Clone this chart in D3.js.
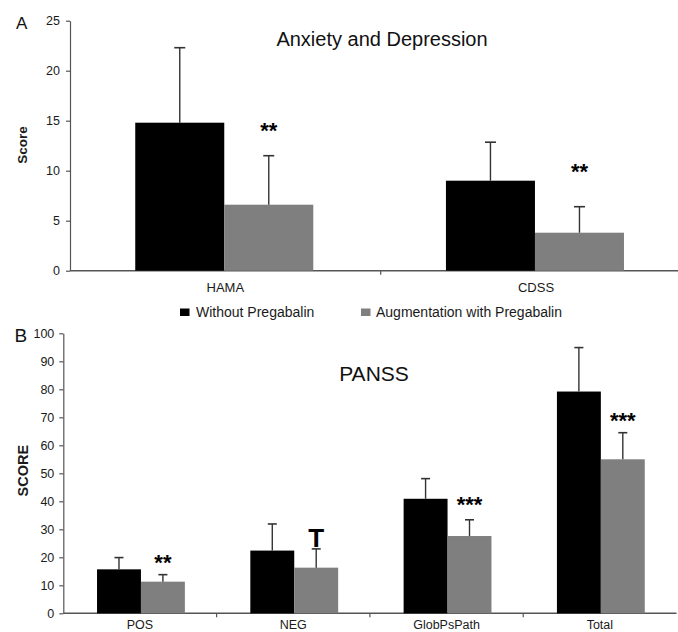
<!DOCTYPE html>
<html>
<head>
<meta charset="utf-8">
<script src="https://cdn.jsdelivr.net/npm/d3@7"></script>
<style>
  html, body { margin: 0; padding: 0; background: #fff; }
  svg { display: block; font-family: "Liberation Sans", Arial, sans-serif; }
</style>
</head>
<body>
<svg id="chart" width="678" height="632"></svg>
<script>
// Series names shown in the legend
const seriesNames = ["Without Pregabalin", "Augmentation with Pregabalin"];

// Panel A: anxiety and depression scales
const categoriesA = ["HAMA", "CDSS"];
const withoutA = [14.8, 9.0];
const withoutSdA = [7.5, 3.85];
const withA = [6.6, 3.8];
const withSdA = [4.9, 2.6];
const sigA = ["**", "**"];
const sigLevelA = [14.5, 10.4];
const ticksA = [0, 5, 10, 15, 20, 25];

// Panel B: PANSS subscales
const categoriesB = ["POS", "NEG", "GlobPsPath", "Total"];
const withoutB = [15.7, 22.4, 40.9, 79.2];
const withoutSdB = [4.2, 9.5, 7.2, 15.7];
const withB = [11.3, 16.3, 27.6, 55.0];
const withSdB = [2.5, 6.7, 5.8, 9.5];
const sigB = ["**", "T", "***", "***"];
const sigLevelB = [19.7, 27.0, 40.5, 70.5];
const ticksB = [0, 10, 20, 30, 40, 50, 60, 70, 80, 90, 100];

const colors = ["#000000", "#7f7f7f"];
const axisColor = "#555";
const textColor = "#1a1a1a";

const svg = d3.select("#chart");

function drawPanel(opts) {
  const g = svg.append("g");
  const y = d3.scaleLinear().domain(opts.yDomain).range([opts.bottom, opts.top]);
  const x = d3.scaleBand().domain(opts.categories).range([opts.left, opts.right]).padding(0);
  const bw = x.bandwidth();
  const sub = d3.scaleBand().domain(seriesNames)
    .range([bw * opts.groupStart, bw * opts.groupEnd]).padding(0);

  // y axis
  const yAxis = g.append("g")
    .attr("transform", `translate(${opts.left},0)`)
    .call(d3.axisLeft(y).tickValues(opts.ticks).tickSize(4).tickPadding(opts.tickPad).tickSizeOuter(0));
  yAxis.select(".domain").attr("stroke", axisColor).attr("stroke-width", 1.2);
  yAxis.selectAll(".tick line").attr("stroke", axisColor).attr("stroke-width", 1.2);
  yAxis.selectAll(".tick text")
    .attr("fill", textColor)
    .style("font-size", opts.tickFont + "px")
    .style("font-family", "'Liberation Sans', Arial, sans-serif");

  // x axis baseline and category boundary ticks
  g.append("line")
    .attr("x1", opts.left).attr("x2", opts.right)
    .attr("y1", y(0)).attr("y2", y(0))
    .attr("stroke", axisColor).attr("stroke-width", 1.4);
  g.selectAll(".bound").data(opts.categories.slice(1)).enter().append("line")
    .attr("x1", d => x(d)).attr("x2", d => x(d))
    .attr("y1", y(0)).attr("y2", y(0) + 4)
    .attr("stroke", axisColor).attr("stroke-width", 1.2);

  // category labels
  g.selectAll(".cat").data(opts.categories).enter().append("text")
    .attr("x", d => x(d) + bw / 2)
    .attr("y", opts.catBaseline)
    .attr("text-anchor", "middle")
    .attr("fill", textColor)
    .style("font-size", opts.catFont + "px")
    .text(d => d);

  const rows = opts.categories.map((c, i) => ({
    cat: c,
    vals: [
      { s: seriesNames[0], v: opts.without[i], sd: opts.withoutSd[i], c: colors[0] },
      { s: seriesNames[1], v: opts.with[i], sd: opts.withSd[i], c: colors[1] }
    ],
    sig: opts.sig[i],
    sigLevel: opts.sigLevel[i]
  }));

  const groups = g.selectAll(".grp").data(rows).enter().append("g")
    .attr("transform", d => `translate(${x(d.cat)},0)`);

  // bars
  groups.selectAll("rect").data(d => d.vals).enter().append("rect")
    .attr("x", d => sub(d.s))
    .attr("width", sub.bandwidth())
    .attr("y", d => y(d.v))
    .attr("height", d => y(0) - y(d.v))
    .attr("fill", d => d.c);

  // upper error bars
  const eb = groups.selectAll(".err").data(d => d.vals).enter().append("g");
  eb.append("line")
    .attr("x1", d => sub(d.s) + sub.bandwidth() / 2)
    .attr("x2", d => sub(d.s) + sub.bandwidth() / 2)
    .attr("y1", d => y(d.v))
    .attr("y2", d => y(d.v + d.sd))
    .attr("stroke", "#333").attr("stroke-width", 1.4);
  eb.append("line")
    .attr("x1", d => sub(d.s) + sub.bandwidth() / 2 - opts.cap / 2)
    .attr("x2", d => sub(d.s) + sub.bandwidth() / 2 + opts.cap / 2)
    .attr("y1", d => y(d.v + d.sd))
    .attr("y2", d => y(d.v + d.sd))
    .attr("stroke", "#333").attr("stroke-width", 1.6);

  // significance markers above the pregabalin bars
  groups.append("text")
    .attr("x", sub(seriesNames[1]) + sub.bandwidth() / 2)
    .attr("y", d => d.sig === "T" ? y(d.sigLevel) + opts.tFont * 0.358 : y(d.sigLevel) + opts.starFont * 0.56)
    .attr("text-anchor", "middle")
    .attr("fill", "#000")
    .style("font-weight", "bold")
    .style("font-size", d => (d.sig === "T" ? opts.tFont : opts.starFont) + "px")
    .text(d => d.sig);

  // rotated y label
  g.append("text")
    .attr("transform", `translate(${opts.yLabelX},${(opts.yLabelY)}) rotate(-90)`)
    .attr("text-anchor", "middle")
    .attr("fill", textColor)
    .style("font-weight", "bold")
    .style("font-size", opts.yLabelFont + "px")
    .text(opts.yLabel);

  // panel title
  g.append("text")
    .attr("x", opts.titleX).attr("y", opts.titleY)
    .attr("text-anchor", "middle")
    .attr("fill", "#111")
    .style("font-size", opts.titleFont + "px")
    .text(opts.title);

  // panel letter
  g.append("text")
    .attr("x", opts.letterX).attr("y", opts.letterY)
    .attr("fill", "#111")
    .style("font-size", opts.letterFont + "px")
    .text(opts.letter);
}

drawPanel({
  categories: categoriesA, without: withoutA, withoutSd: withoutSdA,
  with: withA, withSd: withSdA, sig: sigA, sigLevel: sigLevelA,
  yDomain: [0, 25], ticks: ticksA,
  top: 20.7, bottom: 270.7, left: 70, right: 691.4,
  groupStart: 0.21, groupEnd: 0.783, cap: 11,
  tickFont: 12.5, tickPad: 6, catFont: 13, catBaseline: 291.5,
  starFont: 22, tFont: 26,
  yLabel: "Score", yLabelX: 26.5, yLabelY: 145, yLabelFont: 13.5,
  title: "Anxiety and Depression", titleX: 382, titleY: 46, titleFont: 20,
  letter: "A", letterX: 16, letterY: 29, letterFont: 17
});

drawPanel({
  categories: categoriesB, without: withoutB, withoutSd: withoutSdB,
  with: withB, withSd: withSdB, sig: sigB, sigLevel: sigLevelB,
  yDomain: [0, 100], ticks: ticksB,
  top: 333.3, bottom: 613.3, left: 63.3, right: 676.5,
  groupStart: 0.22, groupEnd: 0.793, cap: 9,
  tickFont: 12.5, tickPad: 5, catFont: 12.5, catBaseline: 628.5,
  starFont: 22, tFont: 26,
  yLabel: "SCORE", yLabelX: 27.5, yLabelY: 470.7, yLabelFont: 14.5,
  title: "PANSS", titleX: 374, titleY: 380.7, titleFont: 21,
  letter: "B", letterX: 14.5, letterY: 342, letterFont: 19
});

// legend between the panels
const legend = svg.append("g");
const legendX = [180, 361];
const legendTextX = [196, 376];
seriesNames.forEach((name, i) => {
  legend.append("rect")
    .attr("x", legendX[i]).attr("y", 308.5)
    .attr("width", 9.5).attr("height", 7.5)
    .attr("fill", colors[i]);
  legend.append("text")
    .attr("x", legendTextX[i]).attr("y", 317)
    .attr("fill", textColor)
    .style("font-size", "14px")
    .text(name);
});
</script>
</body>
</html>
